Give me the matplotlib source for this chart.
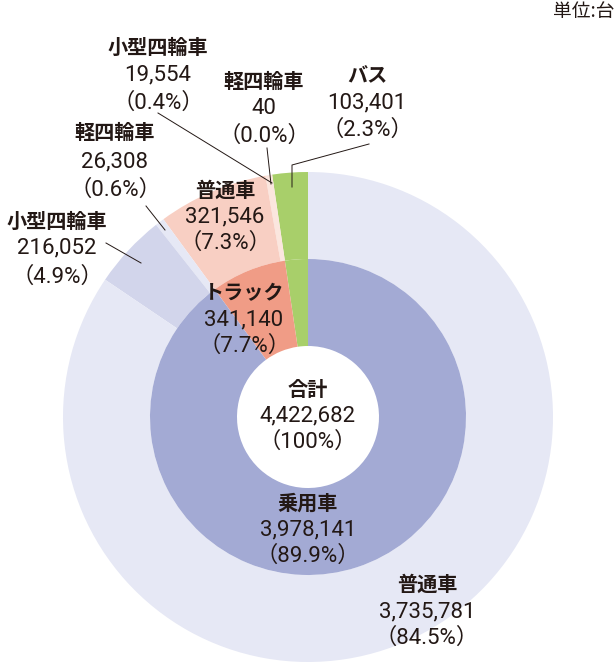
import matplotlib
matplotlib.use("Agg")
import matplotlib.pyplot as plt

plt.rcParams['font.family'] = ['Noto Sans CJK JP', 'DejaVu Sans']

# inner ring: バス, トラック, 乗用車
inner_labels = ['バス', 'トラック', '乗用車']
inner_values = [103401, 341140, 3978141]
inner_pcts = ['2.3%', '7.7%', '89.9%']
inner_colors = ['#a8cf6a', '#f09c86', '#a3aad4']

# outer ring: bus, truck (軽, 小型, 普通), passenger (軽, 小型, 普通)
outer_labels = ['バス', '軽四輪車', '小型四輪車', '普通車', '軽四輪車', '小型四輪車', '普通車']
outer_values = [103401, 40, 19554, 321546, 26308, 216052, 3735781]
outer_pcts = ['2.3%', '0.0%', '0.4%', '7.3%', '0.6%', '4.9%', '84.5%']
outer_colors = ['#a8cf6a', '#fbe6de', '#fbe6de', '#f8cfc3', '#e6e8f5', '#d2d5eb', '#e6e8f5']

total = 4422682

W, H = 615, 665
cx, cy = 308, 417  # pie centre in pixels (from top-left)

fig = plt.figure(figsize=(W / 100, H / 100), dpi=100)
ax = fig.add_axes([0, 0, 1, 1])

r_out, r_mid, r_hole = 245, 158, 71
ax.pie(outer_values, radius=r_out, colors=outer_colors, startangle=90,
       counterclock=True, wedgeprops=dict(width=r_out - r_mid, linewidth=0))
ax.pie(inner_values, radius=r_mid, colors=inner_colors, startangle=90,
       counterclock=True, wedgeprops=dict(width=r_mid - r_hole, linewidth=0))

ax.set_xlim(-cx, W - cx)
ax.set_ylim(cy - H, cy)
ax.set_aspect('equal')
ax.axis('off')

num_font = ['Roboto', 'Noto Sans CJK JP']


def P(px, py):
    return px - cx, cy - py


def label(px, ys, name, value, pct, fs=15):
    ax.text(*P(px, ys[0]), name, ha='center', va='center', fontsize=fs - 0.5,
            fontweight='bold', color='#231815')
    ax.text(*P(px, ys[1]), f'{value:,}', ha='center', va='center',
            fontsize=fs + 1, family=num_font, color='#231815')
    ax.text(*P(px, ys[2]), f'（{pct}）', ha='center', va='center',
            fontsize=fs + 1, family=num_font, color='#231815')


def leader(pts):
    xs = [p[0] - cx for p in pts]
    ys = [cy - p[1] for p in pts]
    ax.plot(xs, ys, color='#231815', linewidth=0.7)


# centre
label(308, [389, 416, 442], '合計', total, '100%')
# inner ring
label(308, [503, 530, 556], inner_labels[2], inner_values[2], inner_pcts[2])
label(244, [293, 320, 346], inner_labels[1], inner_values[1], inner_pcts[1])
# outer ring
label(427, [584, 612, 638], outer_labels[6], outer_values[6], outer_pcts[6])
label(225, [190, 217, 243], outer_labels[3], outer_values[3], outer_pcts[3])
label(57, [221, 248, 277], outer_labels[5], outer_values[5], outer_pcts[5])
label(115, [132, 162, 190], outer_labels[4], outer_values[4], outer_pcts[4])
label(158, [47, 75, 103], outer_labels[2], outer_values[2], outer_pcts[2])
label(264, [81, 108, 136], outer_labels[1], outer_values[1], outer_pcts[1])
label(367, [76, 103, 130], outer_labels[0], outer_values[0], outer_pcts[0])

leader([(106, 243), (141, 263)])
leader([(146, 206), (165, 230)])
leader([(158, 113), (272, 183)])
leader([(267, 148), (271, 184)])
leader([(369, 144), (292, 165), (292, 187)])

ax.text(*P(614, 11), '単位:台', ha='right', va='center', fontsize=13.5,
        color='#231815')

fig.savefig('out.png', dpi=100)
